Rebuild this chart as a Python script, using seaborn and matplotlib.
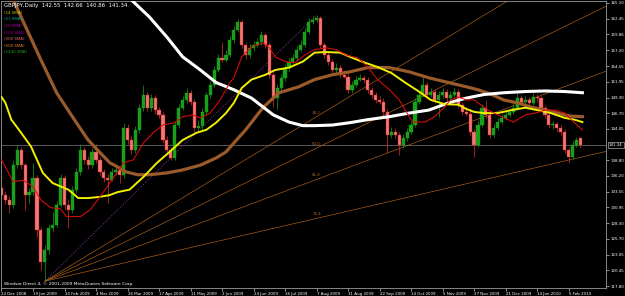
import numpy as np
import matplotlib
matplotlib.use("Agg")
import matplotlib.pyplot as plt
import seaborn as sns

# ---------------- data ----------------
symbol_name = "GBPJPY,Daily"
ohlc_header = ["142.55", "142.66", "140.86", "141.34"]
legend_labels = ["(14 SMA)", "(21 SMA)", "(50 SMA)", "(100 SMA)", "(200 SMA)", "(500 SMA)", "(1440 SMA)"]
legend_colors = ["#c8c800", "#00a0a0", "#a000a0", "#900090", "#e07070", "#e08030", "#20a020"]
copyright_text = "Windsor Direct 4, \u00a9 2001-2009 MetaQuotes Software Corp."

date_labels = ["24 Dec 2008", "19 Jan 2009", "10 Feb 2009", "4 Mar 2009", "26 Mar 2009",
               "17 Apr 2009", "11 May 2009", "2 Jun 2009", "24 Jun 2009", "16 Jul 2009",
               "7 Aug 2009", "31 Aug 2009", "22 Sep 2009", "14 Oct 2009", "5 Nov 2009",
               "27 Nov 2009", "21 Dec 2009", "14 Jan 2010", "5 Feb 2010"]
date_ticks = [0, 16, 32, 48, 64, 80, 96, 112, 128, 144, 160, 176, 192, 208, 224, 240, 256, 272, 288]

price_ticks = [117.80, 120.45, 123.05, 125.70, 128.30, 130.95, 133.55, 136.20, 138.80,
               144.05, 146.70, 149.30, 151.95, 154.55, 157.20, 159.86, 162.45, 165.10]
last_price = 141.34

# candles (one candle every 2 trading days)
candle_bars = list(range(0, 296, 2))
opens = [134.2,133.0,132.2,131.4,138.0,140.6,138.0,133.0,133.5,135.9,
         127.2,121.8,123.8,127.5,128.0,131.4,135.9,131.4,130.5,133.9,
         136.9,140.6,138.9,138.0,140.2,138.9,136.9,135.9,135.6,136.9,
         137.2,136.4,144.2,142.2,140.6,143.9,147.6,149.8,147.6,149.2,
         147.2,146.4,142.2,140.6,139.2,144.7,147.6,148.9,150.1,148.6,
         144.2,144.5,146.9,149.8,151.4,153.9,155.9,155.6,156.4,158.9,
         160.6,162.0,158.1,156.4,157.6,158.1,158.6,159.8,158.1,153.1,
         149.2,150.9,152.6,154.3,155.3,155.9,157.3,158.1,160.3,162.0,
         162.3,162.6,158.1,156.4,155.3,153.9,154.3,153.1,152.8,150.6,
         151.4,152.3,152.6,152.3,150.6,149.8,148.9,148.6,146.9,143.1,
         143.6,143.1,141.4,142.6,143.6,144.7,148.6,149.8,151.4,149.8,
         150.3,148.9,149.8,150.3,149.2,149.8,150.3,148.1,146.9,146.6,
         143.6,141.4,144.7,147.6,146.4,143.1,144.2,145.2,145.9,146.4,
         146.9,147.6,149.2,148.6,148.9,148.4,149.4,149.2,147.6,146.4,
         144.7,144.9,144.2,143.6,140.6,139.4,141.4,142.55]
closes = [133.0,132.2,131.4,138.0,140.6,138.0,133.0,133.5,135.9,127.2,
          121.8,123.8,127.5,128.0,131.4,135.9,131.4,130.5,133.9,136.9,
          140.6,138.9,138.0,140.2,138.9,136.9,135.9,135.6,136.9,137.2,
          136.4,144.2,142.2,140.6,143.9,147.6,149.8,147.6,149.2,147.2,
          146.4,142.2,140.6,139.2,144.7,147.6,148.9,150.1,148.6,144.2,
          144.5,146.9,149.8,151.4,153.9,155.9,155.6,156.4,158.9,160.6,
          162.0,158.1,156.4,157.6,158.1,158.6,159.8,158.1,153.1,149.2,
          150.9,152.6,154.3,155.3,155.9,157.3,158.1,160.3,162.0,162.3,
          162.6,158.1,156.4,155.3,153.9,154.3,153.1,152.8,150.6,151.4,
          152.3,152.6,152.3,150.6,149.8,148.9,148.6,146.9,143.1,143.6,
          143.1,141.4,142.6,143.6,144.7,148.6,149.8,151.4,149.8,150.3,
          148.9,149.8,150.3,149.2,149.8,150.3,148.1,146.9,146.6,143.6,
          141.4,144.7,147.6,146.4,143.1,144.2,145.2,145.9,146.4,146.9,
          147.6,149.2,148.6,148.9,148.4,149.4,149.2,147.6,146.4,144.7,
          144.9,144.2,143.6,140.6,139.4,141.4,142.2,141.34]
highs = [134.8,133.6,132.9,138.8,141.3,141.0,138.4,134.2,138.4,136.4,
         127.6,124.6,128.2,130.2,132.0,136.6,136.3,132.4,134.5,137.5,
         141.6,141.0,139.6,140.9,141.6,139.4,137.4,136.6,137.5,137.9,
         137.8,145.0,144.9,142.8,144.5,148.3,151.4,150.3,149.9,149.8,
         147.8,146.9,142.9,141.0,145.3,148.2,149.5,150.9,150.6,149.0,
         145.6,147.5,150.3,152.0,154.5,156.6,158.6,157.2,159.5,161.3,
         162.5,162.3,158.6,158.2,158.7,159.2,160.4,160.1,158.5,153.5,
         151.6,153.2,154.9,155.9,156.6,157.9,158.9,160.9,162.6,162.9,
         163.1,163.0,158.6,156.9,155.8,155.0,154.8,153.9,153.5,152.0,
         152.9,153.2,153.0,152.7,151.1,150.3,149.6,149.3,147.3,144.3,
         144.2,143.6,143.2,144.2,145.3,149.2,150.4,152.8,151.9,150.9,
         150.8,150.4,150.9,150.8,150.4,150.9,150.7,148.6,147.8,147.3,
         144.0,145.3,148.2,148.9,146.8,144.8,145.8,146.5,147.0,147.5,
         148.2,150.1,149.7,149.5,149.4,150.1,149.9,149.6,148.0,146.8,
         145.4,145.2,144.7,144.0,141.0,142.0,142.7,142.66]
lows = [132.3,131.5,130.0,130.9,137.5,137.4,130.5,131.6,133.0,126.0,
        120.5,118.6,123.2,126.8,127.6,131.0,130.6,127.5,130.0,133.4,
        136.4,138.2,137.3,137.5,138.3,136.2,135.2,131.7,135.3,136.3,
        135.0,135.8,141.6,139.9,140.1,143.4,147.1,147.0,147.1,146.6,
        145.8,141.7,139.9,138.9,138.8,144.2,147.2,148.4,148.0,143.6,
        143.6,143.8,146.4,149.3,151.0,153.5,155.3,155.3,156.0,158.4,
        160.2,157.6,155.8,155.9,157.0,157.7,158.1,157.6,152.5,147.8,
        147.4,150.4,152.1,153.8,154.9,155.4,156.9,157.7,159.9,161.6,
        161.9,157.6,155.9,154.7,153.4,153.3,152.6,152.5,150.0,150.1,
        151.0,152.0,151.8,150.1,149.3,148.4,148.2,146.3,140.0,142.6,
        142.5,139.7,140.9,142.1,143.2,144.3,148.2,149.4,149.3,149.4,
        148.4,146.1,149.3,148.7,148.7,149.4,147.6,146.3,146.2,143.0,
        139.4,141.0,144.3,145.8,142.6,142.7,143.8,144.8,145.5,146.0,
        146.5,147.2,148.1,148.1,147.9,148.0,148.6,147.1,145.9,144.2,
        144.0,143.6,143.0,140.0,138.4,139.0,141.0,140.86]

# moving averages sampled along the bar axis
red_bars = [0, 6, 11, 16, 20, 25, 30, 33, 40, 45, 50, 55, 59, 62, 67, 72, 77, 82, 88, 92, 97, 101,
            106, 111, 116, 118, 122, 127, 133, 136, 139, 144, 149, 154, 159, 165, 170, 175, 181,
            186, 191, 197, 202, 207, 209, 215, 220, 225, 228, 232, 236, 240, 247, 254, 260, 266,
            271, 276, 281, 286, 291, 295]
red_vals = [138.9, 135.2, 135.5, 134.4, 132.2, 130.9, 130.7, 129.4, 129.4, 130.5, 132.7, 135.0,
            136.9, 138.4, 138.9, 141.7, 143.4, 144.7, 145.1, 146.1, 146.4, 145.9, 146.7, 148.9,
            151.8, 152.6, 156.1, 157.8, 158.4, 157.6, 156.1, 155.3, 155.1, 156.4, 157.3, 157.6,
            157.3, 156.4, 155.9, 154.4, 152.3, 150.6, 148.9, 146.1, 145.2, 145.2, 146.1, 147.7,
            148.9, 149.4, 148.9, 148.9, 147.2, 146.1, 145.2, 146.4, 146.7, 147.2, 147.2, 146.7,
            145.1, 143.9]
yellow_bars = [0, 2, 5, 10, 15, 18, 21, 26, 34, 39, 44, 50, 55, 59, 65, 72, 79, 85, 92, 99, 104,
               109, 114, 118, 122, 127, 134, 139, 146, 153, 159, 165, 172, 177, 183, 191, 198, 205,
               212, 218, 225, 232, 236, 240, 245, 252, 259, 266, 272, 279, 286, 291, 295]
yellow_vals = [149.4, 148.4, 145.6, 143.4, 141.1, 138.9, 136.7, 135.0, 133.9, 132.5, 132.5, 132.7,
               133.0, 133.5, 133.9, 136.0, 138.4, 140.1, 142.2, 143.4, 143.9, 145.1, 146.7, 148.4,
               150.9, 152.3, 153.1, 153.9, 154.3, 155.3, 156.8, 156.9, 156.8, 156.1, 155.3, 154.4,
               153.4, 151.8, 150.3, 148.9, 148.2, 148.1, 147.4, 146.9, 146.7, 146.7, 147.2, 147.6,
               147.2, 146.7, 145.9, 145.6, 145.2]
brown_bars = [0, 6, 13, 20, 28, 37, 44, 50, 55, 59, 63, 69, 75, 84, 92, 101, 109, 114, 118, 124,
              133, 141, 151, 159, 168, 177, 186, 197, 207, 217, 227, 236, 242, 249, 255, 262, 269,
              276, 282, 289, 295]
brown_vals = [169.8, 165.6, 160.6, 155.6, 150.1, 145.6, 142.2, 140.1, 138.4, 137.7, 136.9, 136.4,
              136.4, 136.7, 137.2, 138.0, 139.2, 140.2, 141.7, 143.9, 147.7, 150.1, 151.1, 152.3,
              153.1, 153.6, 154.3, 154.3, 153.6, 152.6, 151.8, 151.1, 150.6, 149.8, 148.9, 148.4,
              147.7, 147.2, 146.7, 146.2, 146.1]
white_bars = [60, 66, 75, 84, 92, 101, 109, 118, 127, 138, 146, 153, 159, 168, 177, 186, 197, 207,
              217, 227, 236, 245, 255, 266, 276, 286, 295]
white_vals = [167.5, 165.6, 162.8, 159.4, 156.1, 153.9, 151.8, 150.6, 149.2, 146.4, 145.2, 144.6,
              144.6, 144.7, 145.1, 145.6, 146.1, 146.7, 147.2, 148.4, 149.2, 149.8, 150.1, 150.3,
              150.4, 150.3, 150.1]

# Fibonacci fan anchors
fan_low_bar, fan_low = 22, 118.6
fan_high_bar, fan_high = 160, 163.1
fan_levels = [38.2, 50.0, 61.8, 76.4]

# ---------------- figure ----------------
W, H = 625, 296
fig = plt.figure(figsize=(W / 100, H / 100), dpi=100, facecolor="black")
ax = fig.add_axes([1 / W, 8 / H, 605 / W, 287 / H])
ax.set_facecolor("black")
XMAX = 307.0
ax.set_xlim(-0.25, XMAX)
ax.set_ylim(117.47, 165.43)

# candles
o = np.array(opens); c = np.array(closes); h = np.array(highs); l = np.array(lows)
xb = np.array(candle_bars)
up = c >= o
body_col = np.where(up, "#18a018", "#f07878")
edge_col = np.where(up, "#18a018", "#e02020")
wick_col = np.where(up, "#18a018", "#e03030")
ax.vlines(xb, l, h, colors=wick_col, lw=0.5, zorder=2)
ax.bar(xb, c - o, bottom=o, width=1.6, color=body_col, edgecolor=edge_col, linewidth=0.3, zorder=2.1)

# fib fan
fan_col = "#b4641c"
for r in fan_levels:
    lvl = fan_high - r / 100.0 * (fan_high - fan_low)
    slope = (lvl - fan_low) / (fan_high_bar - fan_low_bar)
    ax.plot([fan_low_bar, XMAX], [fan_low, fan_low + slope * (XMAX - fan_low_bar)],
            color=fan_col, lw=0.45, zorder=1.8)
    ax.text(fan_high_bar, lvl + 0.35, f"{r:.1f}", color=fan_col, fontsize=2.9,
            ha="center", va="bottom", zorder=5)
ax.plot([fan_low_bar, fan_high_bar], [fan_low, fan_high], color="#8a3a9a",
        lw=0.6, ls=(0, (1.2, 1.6)), zorder=1.8)

# current price line
ax.axhline(last_price, color="#7a7a7a", lw=0.5, zorder=1.5)

# moving averages
sns.lineplot(x=brown_bars, y=brown_vals, ax=ax, color="#9a5a2a", lw=2.3, zorder=3)
sns.lineplot(x=white_bars, y=white_vals, ax=ax, color="#ffffff", lw=2.2, zorder=3.2)
sns.lineplot(x=yellow_bars, y=yellow_vals, ax=ax, color="#f0f000", lw=1.4, zorder=3.3)
sns.lineplot(x=red_bars, y=red_vals, ax=ax, color="#e00c0c", lw=0.75, zorder=3.4)

# axes styling
for s in ax.spines.values():
    s.set_color("#9a9a9a")
    s.set_linewidth(0.6)
ax.yaxis.tick_right()
ax.set_yticks(price_ticks)
ax.set_yticklabels([f"{p:.2f}" for p in price_ticks])
ax.set_xticks(date_ticks)
ax.set_xticklabels(date_labels)
for lbl in ax.get_xticklabels():
    lbl.set_horizontalalignment("left")
ax.tick_params(axis="both", colors="#c8c8c8", labelcolor="white", labelsize=2.9,
               length=2.2, width=0.5, pad=1.0)
ax.tick_params(axis="x", pad=0.8)
ax.set_xlabel(""); ax.set_ylabel("")
ax.grid(False)

ax.annotate(f"{last_price:.2f}", xy=(1, last_price), xycoords=("axes fraction", "data"),
            xytext=(2.2, 0), textcoords="offset points", color="white", fontsize=2.9,
            va="center", ha="left",
            bbox=dict(boxstyle="square,pad=0.25", fc="black", ec="#d0d0d0", lw=0.4),
            annotation_clip=False, zorder=6)

# texts
fig.text(4 / W, 1 - 5 / H, symbol_name + "  " + "  ".join(ohlc_header), color="white",
         fontsize=3.9, va="center", ha="left")
for i, (t, col) in enumerate(zip(legend_labels, legend_colors)):
    fig.text(4 / W, 1 - (12.7 + 6.6 * i) / H, t, color=col, fontsize=2.9, va="center", ha="left")
fig.text(4 / W, 1 - 284 / H, copyright_text, color="white", fontsize=3.15, va="center", ha="left")

fig.savefig("out.png", dpi=100, facecolor="black")
